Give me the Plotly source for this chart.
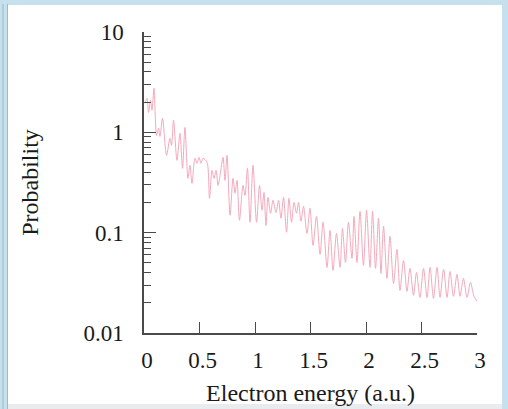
import plotly.graph_objects as go

# Electron energy (a.u.)
energy = [0.009, 0.027, 0.041, 0.059, 0.072, 0.090, 0.113, 0.131, 0.144, 0.167,
          0.203, 0.234, 0.248, 0.266, 0.297, 0.324, 0.347, 0.369, 0.396, 0.414,
          0.432, 0.459, 0.477, 0.495, 0.514, 0.532, 0.568, 0.590, 0.613, 0.631,
          0.649, 0.667, 0.685, 0.712, 0.730, 0.748, 0.775, 0.802, 0.820, 0.838,
          0.860, 0.892, 0.910, 0.932, 0.955, 0.982, 1.014, 1.041, 1.063, 1.081,
          1.099, 1.117, 1.140, 1.162, 1.189, 1.212, 1.234, 1.257, 1.284, 1.306,
          1.329, 1.351, 1.374, 1.392, 1.414, 1.437, 1.468, 1.495, 1.523, 1.554,
          1.586, 1.613, 1.649, 1.676, 1.703, 1.734, 1.766, 1.788, 1.815, 1.842,
          1.874, 1.892, 1.919, 1.946, 1.977, 2.005, 2.036, 2.059, 2.086, 2.113,
          2.135, 2.158, 2.189, 2.216, 2.248, 2.279, 2.306, 2.338, 2.369, 2.396,
          2.428, 2.455, 2.486, 2.518, 2.550, 2.577, 2.608, 2.640, 2.667, 2.699,
          2.730, 2.757, 2.788, 2.820, 2.847, 2.878, 2.910, 2.941, 2.973, 3.000]

# Probability
probability = [1.95, 2.18, 1.58, 2.08, 1.66, 2.75, 0.933, 1.10, 0.912, 1.38,
               0.590, 0.871, 0.742, 1.32, 0.526, 0.977, 0.438, 1.12, 0.348, 0.469,
               0.310, 0.551, 0.491, 0.563, 0.491, 0.551, 0.502, 0.220, 0.418, 0.348,
               0.418, 0.296, 0.373, 0.563, 0.332, 0.590, 0.149, 0.348, 0.247, 0.332,
               0.133, 0.296, 0.235, 0.438, 0.127, 0.469, 0.127, 0.296, 0.167, 0.252,
               0.118, 0.225, 0.156, 0.210, 0.159, 0.210, 0.139, 0.225, 0.101, 0.220,
               0.127, 0.200, 0.156, 0.200, 0.130, 0.183, 0.0984, 0.175, 0.0747, 0.145,
               0.0608, 0.127, 0.0451, 0.105, 0.0421, 0.0984, 0.0451, 0.110, 0.0506, 0.127,
               0.0554, 0.145, 0.0506, 0.163, 0.0472, 0.167, 0.0451, 0.163, 0.0441, 0.139,
               0.0393, 0.116, 0.0350, 0.0918, 0.0312, 0.0681, 0.0266, 0.0530, 0.0260, 0.0441,
               0.0237, 0.0402, 0.0226, 0.0441, 0.0226, 0.0451, 0.0221, 0.0451, 0.0226, 0.0431,
               0.0226, 0.0411, 0.0232, 0.0384, 0.0232, 0.0350, 0.0226, 0.0319, 0.0232, 0.0207]

x_ticks = [0, 0.5, 1, 1.5, 2, 2.5, 3]
x_tick_labels = ["0", "0.5", "1", "1.5", "2", "2.5", "3"]
y_ticks = [0.01, 0.1, 1, 10]
y_tick_labels = ["0.01", "0.1", "1", "10"]
y_minor_ticks = [m * d for d in (0.01, 0.1, 1) for m in range(2, 10)]

W, H = 508, 409
ML, MR, MT, MB = 144, 31, 32, 76
PW, PH = W - ML - MR, H - MT - MB

def px(x):
    return (x - ML) / PW

def py(y):
    return (H - MB - y) / PH

FONT = "Liberation Serif"
AXC = "#4a4a4a"

fig = go.Figure()
fig.add_trace(go.Scatter(
    x=energy, y=probability, mode="lines",
    line=dict(color="#f4a9bb", width=1, shape="spline", smoothing=0.8),
    hoverinfo="skip", showlegend=False,
))

fig.update_layout(
    width=W, height=H,
    margin=dict(l=ML, r=MR, t=MT, b=MB, pad=0, autoexpand=False),
    paper_bgcolor="white", plot_bgcolor="white",
    font=dict(family=FONT, color="#1a1a1a", size=20),
    xaxis=dict(
        range=[0, 3], tickvals=x_ticks, ticktext=x_tick_labels, automargin=False,
        showgrid=False, zeroline=False, showline=True, linecolor=AXC, linewidth=1.5,
        ticks="inside", ticklen=11, tickcolor=AXC, tickwidth=1,
        tickfont=dict(family=FONT, size=23), ticklabelshift=3, ticklabelstandoff=6,
        title=dict(text="Electron energy (a.u.)", font=dict(family=FONT, size=24), standoff=12),
    ),
    yaxis=dict(
        type="log", range=[-2, 1], tickvals=y_ticks, ticktext=y_tick_labels, automargin=False,
        showgrid=False, zeroline=False, showline=True, linecolor=AXC, linewidth=1.5,
        ticks="inside", ticklen=12, tickcolor=AXC, tickwidth=1,
        tickfont=dict(family=FONT, size=23), ticklabelstandoff=14,
        minor=dict(tickvals=y_minor_ticks, ticks="inside", ticklen=7, tickcolor=AXC,
                   tickwidth=1, showgrid=False),
        title=dict(text="Probability", font=dict(family=FONT, size=24), standoff=38),
    ),
)

BLUE = "#c6e0ee"
# page frame strips
fig.add_shape(type="rect", xref="paper", yref="paper", x0=px(0), x1=px(W), y0=py(0), y1=py(5),
              fillcolor=BLUE, line_width=0, layer="above")
fig.add_shape(type="rect", xref="paper", yref="paper", x0=px(0), x1=px(8), y0=py(0), y1=py(H),
              fillcolor=BLUE, line_width=0, layer="above")
fig.add_shape(type="line", xref="paper", yref="paper", x0=px(3), x1=px(3), y0=py(4), y1=py(H),
              line=dict(color="#9fb7c6", width=1), layer="above")
fig.add_shape(type="line", xref="paper", yref="paper", x0=px(7.5), x1=px(7.5), y0=py(4), y1=py(H),
              line=dict(color="#9fb7c6", width=1), layer="above")
fig.add_shape(type="rect", xref="paper", yref="paper", x0=px(502), x1=px(W), y0=py(0), y1=py(H),
              fillcolor=BLUE, line_width=0, layer="above")
fig.add_shape(type="rect", xref="paper", yref="paper", x0=px(8), x1=px(502), y0=py(404), y1=py(H),
              fillcolor="#e9ecef", line_width=0, layer="above")

fig.write_html("out.html", config={"displayModeBar": False},
               post_script="document.body.style.margin='0';")
